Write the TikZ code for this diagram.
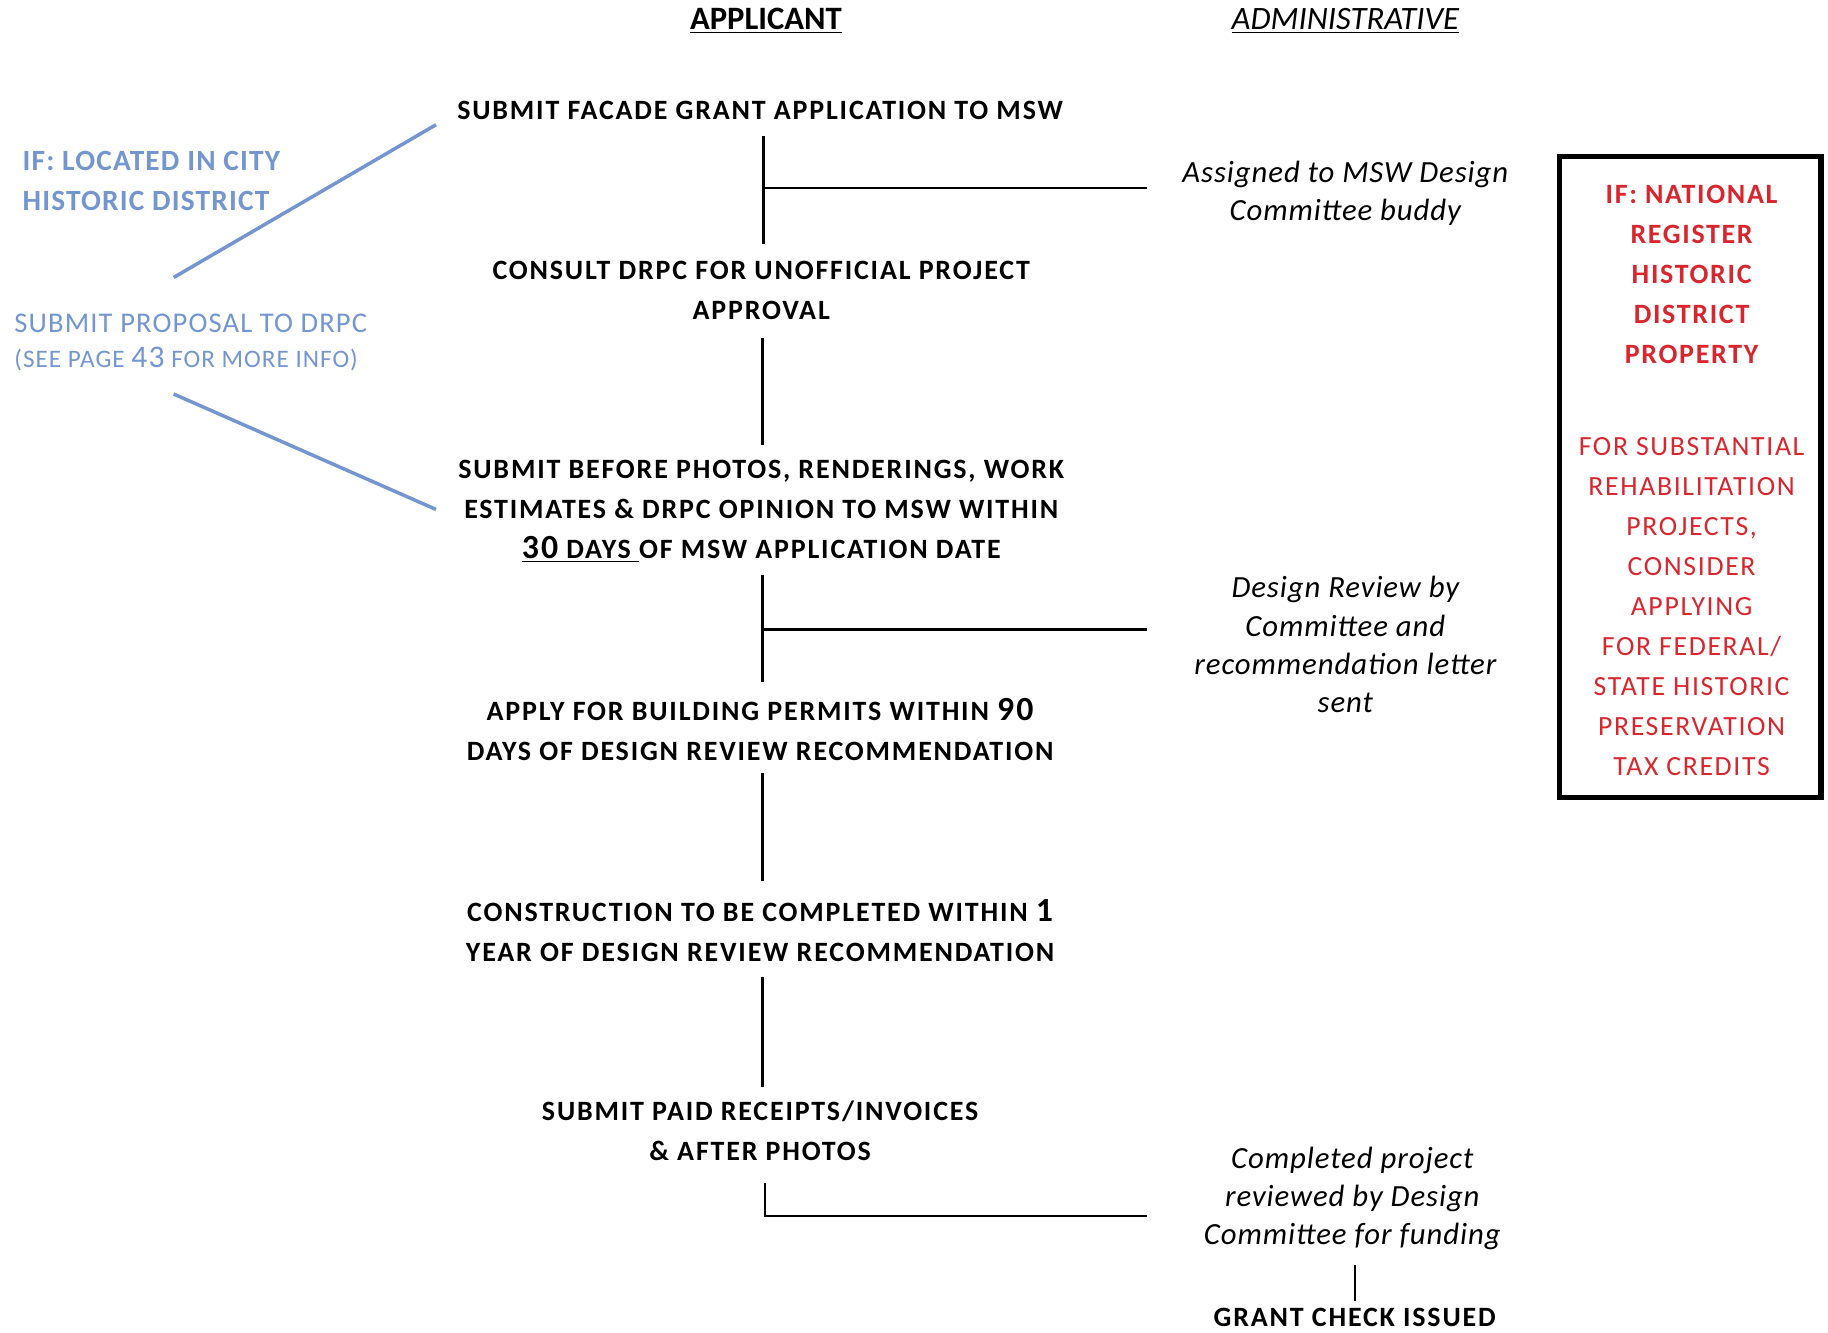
\documentclass[tikz,border=0pt]{standalone}
\usepackage{fontspec}
\setmainfont{Carlito}
\definecolor{myblue}{HTML}{7396D0}
\definecolor{myred}{HTML}{D9262E}
\newcommand{\bnum}[1]{{\fontsize{14.5}{17}\selectfont #1}}
\begin{document}
\begin{tikzpicture}[x=0.5pt,y=-0.5pt,
  app/.style={font=\bfseries\fontsize{12}{17}\selectfont\addfontfeature{LetterSpace=6.5}, align=center, inner sep=0pt},
  adm/.style={font=\itshape\fontsize{13.2}{16.5}\selectfont\addfontfeature{LetterSpace=3}, align=center, inner sep=0pt},
  head/.style={inner sep=0pt, font=\fontsize{14}{14}\selectfont},
  bluet/.style={text=myblue, align=left, anchor=west, inner sep=0pt, font=\fontsize{12.25}{15}\selectfont\addfontfeature{LetterSpace=4}},
  redt/.style={text=myred, align=center, inner sep=0pt, font=\fontsize{11.9}{17.15}\selectfont\addfontfeature{LetterSpace=6}},
  ln/.style={line width=1pt, black},
  bln/.style={line width=1.5pt, myblue},
  boxst/.style={draw=black, line width=2.2pt, inner sep=0pt, minimum width=112pt, minimum height=275pt}
]
\useasboundingbox (0,0) rectangle (1568,1143);
% headers
\node[head, font=\bfseries\fontsize{14}{14}\selectfont] (happ) at (657,18) {\underline{APPLICANT}};
\node[head, font=\itshape\fontsize{14}{14}\selectfont] (hadm) at (1154,18) {\underline{ADMINISTRATIVE}};
% applicant steps
\node[app] (s1) at (652,95) {SUBMIT FACADE GRANT APPLICATION TO MSW};
\node[app] (s2) at (653,249) {CONSULT DRPC FOR UNOFFICIAL PROJECT\\APPROVAL};
\node[app] (s3) at (653,439) {SUBMIT BEFORE PHOTOS, RENDERINGS, WORK\\ESTIMATES \& DRPC OPINION TO MSW WITHIN\\\underline{\bnum{30} DAYS\ }OF MSW APPLICATION DATE};
\node[app] (s4) at (652,626) {APPLY FOR BUILDING PERMITS WITHIN \bnum{90}\\DAYS OF DESIGN REVIEW RECOMMENDATION};
\node[app] (s5) at (652,798) {CONSTRUCTION TO BE COMPLETED WITHIN \bnum{1}\\YEAR OF DESIGN REVIEW RECOMMENDATION};
\node[app] (s6) at (652,970) {SUBMIT PAID RECEIPTS/INVOICES\\\& AFTER PHOTOS};
% administrative
\node[adm] (a1) at (1154,166) {Assigned to MSW Design\\Committee buddy};
\node[adm] (a2) at (1154,553) {Design Review by\\Committee and\\recommendation letter\\sent};
\node[adm] (a3) at (1160,1028) {Completed project\\reviewed by Design\\Committee for funding};
\node[app] (fin) at (1162,1130) {GRANT CHECK ISSUED};
% left blue notes
\node[bluet, font=\bfseries\fontsize{12.6}{17}\selectfont\addfontfeature{LetterSpace=4}] (b1) at (19,155) {IF: LOCATED IN CITY\\HISTORIC DISTRICT};
\node[bluet] (b2) at (12,294) {SUBMIT PROPOSAL TO DRPC\\{\fontsize{10.8}{15}\selectfont(SEE PAGE {\fontsize{13.5}{15}\selectfont 43} FOR MORE INFO)}};
% red box
\node[boxst] (box) at (1450,409) {};
\node[redt, font=\bfseries\fontsize{12}{17.15}\selectfont\addfontfeature{LetterSpace=6}] (r1) at (1451,235.5) {IF: NATIONAL\\REGISTER\\HISTORIC\\DISTRICT\\PROPERTY};
\node[redt] (r2) at (1451,520.5) {FOR SUBSTANTIAL\\REHABILITATION\\PROJECTS,\\CONSIDER\\APPLYING\\FOR FEDERAL/\\STATE HISTORIC\\PRESERVATION\\TAX CREDITS};
% connector points
\coordinate (v1a) at (655,117); \coordinate (v1b) at (655,209);
\coordinate (h1a) at (655,161); \coordinate (h1b) at (984,161);
\coordinate (v2a) at (654,290); \coordinate (v2b) at (654,382);
\coordinate (v3a) at (654,493); \coordinate (v3b) at (654,585);
\coordinate (h3a) at (654,540); \coordinate (h3b) at (984,540);
\coordinate (v4a) at (654,663); \coordinate (v4b) at (654,756);
\coordinate (v5a) at (654,838); \coordinate (v5b) at (654,932);
\coordinate (La) at (656,1015); \coordinate (Lb) at (656,1043); \coordinate (Lc) at (984,1043);
\coordinate (v6a) at (1162,1085); \coordinate (v6b) at (1162,1116);
\coordinate (bl1a) at (149,238); \coordinate (bl1b) at (374,107);
\coordinate (bl2a) at (149,338); \coordinate (bl2b) at (374,437);
% connectors
\draw[ln] (v1a) -- (v1b);
\draw[ln] (h1a) -- (h1b);
\draw[ln] (v2a) -- (v2b);
\draw[ln] (v3a) -- (v3b);
\draw[ln] (h3a) -- (h3b);
\draw[ln] (v4a) -- (v4b);
\draw[ln] (v5a) -- (v5b);
\draw[ln] (La) -- (Lb) -- (Lc);
\draw[ln] (v6a) -- (v6b);
\draw[bln] (bl1a) -- (bl1b);
\draw[bln] (bl2a) -- (bl2b);
\end{tikzpicture}
\end{document}
